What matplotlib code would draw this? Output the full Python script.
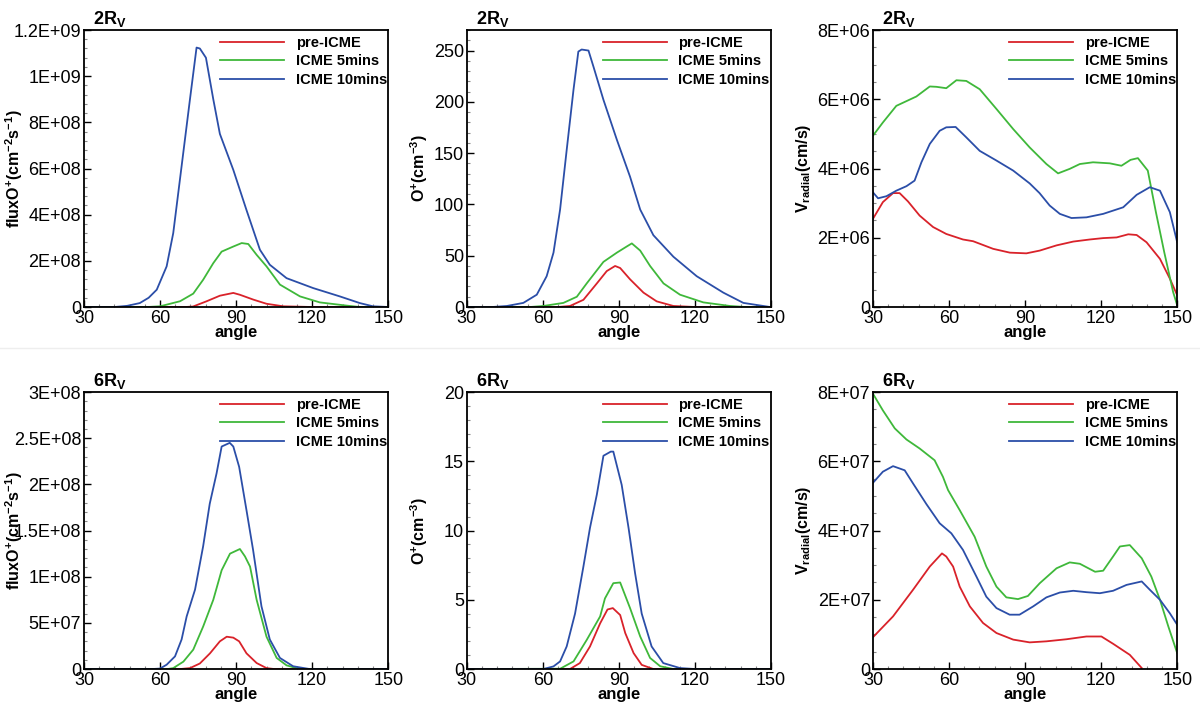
import matplotlib.pyplot as plt
from matplotlib.ticker import MultipleLocator, AutoMinorLocator, FuncFormatter
import numpy as np

plt.rcParams['font.family'] = ['Liberation Sans', 'DejaVu Sans']
plt.rcParams['mathtext.fontset'] = 'custom'
plt.rcParams['mathtext.rm'] = 'Liberation Sans:bold'
plt.rcParams['mathtext.it'] = 'Liberation Sans:bold'
plt.rcParams['mathtext.bf'] = 'Liberation Sans:bold'

labels = ['pre-ICME', 'ICME 5mins', 'ICME 10mins']
colors = ['#d9222a', '#3fb83a', '#2b4ea8']

# ---- 2Rv flux O+ ----
flux2_pre_x = [30, 70, 73, 78.4, 83.6, 88.9, 91.5, 96.8, 102, 108.6, 120, 150]
flux2_pre_y = [0, 0, 0.002e9, 0.025e9, 0.049e9, 0.061e9, 0.053e9, 0.032e9, 0.014e9, 0.003e9, 0, 0]
flux2_5_x = [30, 55, 60, 67.9, 73.1, 77, 81, 84.3, 88.9, 92.2, 94.8, 98.1, 102, 107.3, 115.2, 123, 133.6, 138.8, 150]
flux2_5_y = [0, 0, 0.003e9, 0.025e9, 0.058e9, 0.118e9, 0.19e9, 0.24e9, 0.262e9, 0.277e9, 0.273e9, 0.226e9,
             0.176e9, 0.097e9, 0.046e9, 0.02e9, 0.006e9, 0, 0]
flux2_10_x = [30, 42, 47, 52, 55.5, 58.7, 62.6, 65.2, 68.5, 71.8, 74.4, 75.7, 78.1, 81, 83.6, 88.9, 94.1, 99.4,
              103.3, 109.9, 120.4, 130.9, 138.8, 144, 150]
flux2_10_y = [0, 0, 0.005e9, 0.017e9, 0.04e9, 0.075e9, 0.176e9, 0.32e9, 0.61e9, 0.90e9, 1.124e9, 1.12e9, 1.08e9,
              0.90e9, 0.75e9, 0.594e9, 0.42e9, 0.248e9, 0.183e9, 0.125e9, 0.082e9, 0.046e9, 0.017e9, 0.003e9, 0]

# ---- 2Rv O+ density ----
dens2_pre_x = [30, 66, 70.7, 76, 81.3, 85.2, 88.5, 90.5, 94.4, 99.7, 104.9, 111.5, 120, 150]
dens2_pre_y = [0, 0, 1, 7, 23, 35, 40, 38, 27, 14, 5.5, 1, 0, 0]
dens2_5_x = [30, 55, 60.2, 68.1, 73.4, 77.3, 83.9, 89.2, 93.1, 95.1, 98.4, 102.3, 107.6, 114.1, 123.3, 133.8, 140, 150]
dens2_5_y = [0, 0, 1, 4, 10, 23, 44, 53, 59, 62, 55, 40, 23, 12, 4.5, 1, 0, 0]
dens2_10_x = [30, 40, 45.8, 52.3, 57.6, 61.5, 64.2, 66.8, 69.4, 72.1, 74, 75.3, 78, 80, 83.9, 89.2, 94.4, 98.4,
              103.6, 111.5, 120.7, 131.2, 139.1, 149.6, 150]
dens2_10_y = [0, 0, 1, 4, 12, 30, 53, 95, 153, 212, 249, 251, 250, 234, 202, 163, 127, 95, 70, 49, 30, 14, 4, 0, 0]

# ---- 2Rv V radial ----
vr2_pre_x = [30, 33.9, 37.9, 40.5, 43.8, 48.4, 53.7, 58.9, 65.5, 69.5, 77.4, 84, 90.5, 95.8, 102.4, 109, 115.5,
             120.8, 126.1, 130.7, 134, 137.9, 143.2, 147.1, 150]
vr2_pre_y = [2.55e6, 3.03e6, 3.29e6, 3.29e6, 3.05e6, 2.64e6, 2.31e6, 2.11e6, 1.95e6, 1.90e6, 1.68e6, 1.57e6,
             1.55e6, 1.63e6, 1.78e6, 1.89e6, 1.95e6, 1.99e6, 2.01e6, 2.10e6, 2.08e6, 1.87e6, 1.39e6, 0.82e6, 0.34e6]
vr2_5_x = [30, 33.9, 39.2, 47.1, 52.4, 55, 58.9, 62.9, 66.8, 72.1, 78.7, 85.3, 91.8, 98.4, 103, 107.6, 111.6,
           116.8, 123.4, 128, 131.6, 134.5, 138.4, 141.6, 144.9, 148.4, 150]
vr2_5_y = [4.95e6, 5.33e6, 5.81e6, 6.08e6, 6.37e6, 6.36e6, 6.32e6, 6.55e6, 6.53e6, 6.29e6, 5.72e6, 5.14e6,
           4.61e6, 4.13e6, 3.86e6, 3.99e6, 4.13e6, 4.18e6, 4.15e6, 4.08e6, 4.25e6, 4.30e6, 3.94e6, 2.74e6,
           1.58e6, 0.43e6, 0.05e6]
vr2_10_x = [30, 32, 35.3, 39.2, 43.2, 46.4, 49.1, 52.4, 56.3, 58.9, 62.6, 66.8, 72.1, 78.7, 85.3, 91.8, 95.7,
            99.7, 103.7, 108.3, 114.2, 120.8, 128.7, 134, 139.2, 143.2, 147.1, 150]
vr2_10_y = [3.31e6, 3.14e6, 3.20e6, 3.36e6, 3.49e6, 3.65e6, 4.18e6, 4.71e6, 5.09e6, 5.19e6, 5.20e6, 4.90e6,
            4.51e6, 4.23e6, 3.94e6, 3.57e6, 3.29e6, 2.93e6, 2.69e6, 2.57e6, 2.59e6, 2.69e6, 2.88e6, 3.24e6,
            3.46e6, 3.36e6, 2.74e6, 1.87e6]

# ---- 6Rv flux O+ ----
flux6_pre_x = [30, 68, 71.8, 75.7, 79.7, 83.6, 86.3, 88.9, 91.2, 94.1, 98.1, 102, 105, 150]
flux6_pre_y = [0, 0, 0.01e8, 0.06e8, 0.17e8, 0.30e8, 0.35e8, 0.34e8, 0.30e8, 0.17e8, 0.065e8, 0.01e8, 0, 0]
flux6_5_x = [30, 63, 65.2, 69.2, 73.1, 77, 81, 84.3, 87.6, 91.5, 93.5, 95.5, 98.1, 102, 106, 109.9, 115.1, 150]
flux6_5_y = [0, 0, 0.01e8, 0.08e8, 0.21e8, 0.46e8, 0.75e8, 1.07e8, 1.25e8, 1.30e8, 1.22e8, 1.11e8, 0.75e8,
             0.35e8, 0.12e8, 0.04e8, 0, 0]
flux6_10_x = [30, 57, 60, 62.6, 65.9, 68.5, 70.5, 73.8, 77, 79.6, 82.3, 84.3, 87.5, 88.9, 91.2, 94.1, 96.7, 100,
              103.3, 107.3, 112.5, 119, 150]
flux6_10_y = [0, 0, 0.005e8, 0.047e8, 0.137e8, 0.32e8, 0.57e8, 0.86e8, 1.33e8, 1.79e8, 2.12e8, 2.41e8, 2.45e8,
              2.41e8, 2.19e8, 1.72e8, 1.29e8, 0.68e8, 0.32e8, 0.12e8, 0.03e8, 0, 0]

# ---- 6Rv O+ density ----
dens6_pre_x = [30, 70.7, 74.6, 78.6, 82.6, 85.5, 87.6, 90.5, 92.5, 95.8, 99, 103.6, 150]
dens6_pre_y = [0, 0, 0.43, 1.63, 3.3, 4.3, 4.4, 3.9, 2.6, 1.15, 0.3, 0, 0]
dens6_5_x = [30, 66.8, 72.1, 77.3, 82.6, 84.5, 87.8, 90.5, 94.4, 98.4, 102.3, 106.3, 111.5, 150]
dens6_5_y = [0, 0.02, 0.55, 2.1, 3.8, 5.1, 6.2, 6.25, 4.4, 2.35, 0.8, 0.2, 0, 0]
dens6_10_x = [30, 60.2, 64.2, 66.8, 69.4, 72.7, 76, 78.6, 81.3, 83.9, 86.8, 87.8, 91.1, 93.8, 96.4, 99, 102.9,
              107.5, 114.1, 120, 150]
dens6_10_y = [0, 0, 0.19, 0.55, 1.63, 4.0, 7.4, 10.2, 12.6, 15.4, 15.7, 15.7, 13.3, 10.2, 6.9, 4.0, 1.63,
              0.43, 0.07, 0, 0]

# ---- 6Rv V radial ----
vr6_pre_x = [30, 37.9, 45.8, 52.4, 57.2, 58.9, 61.6, 64.2, 68.2, 73.4, 78.7, 85.3, 91.8, 98.4, 106.3, 114.2,
             120.1, 124.7, 131.3, 136]
vr6_pre_y = [0.92e7, 1.52e7, 2.29e7, 2.96e7, 3.34e7, 3.25e7, 2.96e7, 2.38e7, 1.81e7, 1.33e7, 1.04e7, 0.85e7,
             0.77e7, 0.80e7, 0.86e7, 0.94e7, 0.94e7, 0.73e7, 0.41e7, 0.03e7]
vr6_5_x = [30, 33.9, 38.6, 43.2, 48.4, 54.3, 57.6, 59.6, 64.2, 70.1, 74.7, 78.7, 82.6, 87.2, 91.1, 95.8, 102.4,
           107.6, 111.6, 117.6, 120.8, 124.7, 127.4, 131.3, 136, 139.8, 143.2, 146.5, 150]
vr6_5_y = [7.95e7, 7.47e7, 6.95e7, 6.63e7, 6.37e7, 6.03e7, 5.55e7, 5.17e7, 4.59e7, 3.82e7, 2.96e7, 2.38e7,
           2.07e7, 2.02e7, 2.11e7, 2.48e7, 2.91e7, 3.08e7, 3.04e7, 2.81e7, 2.84e7, 3.25e7, 3.54e7, 3.58e7,
           3.20e7, 2.67e7, 2.0e7, 1.23e7, 0.46e7]
vr6_10_x = [30, 33.9, 37.9, 42.5, 45.8, 51.1, 56.3, 60.9, 65.5, 70.8, 74.7, 78.7, 83.9, 87.8, 93.2, 98.4, 103.7,
            109, 114.2, 119.5, 124.7, 130, 136, 139.2, 143.2, 147.1, 150]
vr6_10_y = [5.38e7, 5.70e7, 5.86e7, 5.74e7, 5.36e7, 4.76e7, 4.21e7, 3.92e7, 3.44e7, 2.67e7, 2.09e7, 1.76e7,
            1.57e7, 1.57e7, 1.81e7, 2.07e7, 2.21e7, 2.26e7, 2.22e7, 2.19e7, 2.26e7, 2.43e7, 2.53e7, 2.29e7,
            2.0e7, 1.61e7, 1.28e7]


def sci_fmt(v, pos):
    if v == 0:
        return '0'
    e = int(np.floor(np.log10(abs(v)) + 1e-9))
    m = v / 10 ** e
    return '{:g}E+{:02d}'.format(round(m, 3), e)


flux_label = r'fluxO$^{+}$(cm$^{-2}$s$^{-1}$)'
dens_label = r'O$^{+}$(cm$^{-3}$)'
vr_label = r'V$_{\mathregular{radial}}$(cm/s)'

panels = [
    # (rv, series, ylabel, ylabel x, ymax, major, minor_n, sci)
    ('2', [(flux2_pre_x, flux2_pre_y), (flux2_5_x, flux2_5_y), (flux2_10_x, flux2_10_y)], flux_label, -0.195, 1.2e9, 2e8, 5, True),
    ('2', [(dens2_pre_x, dens2_pre_y), (dens2_5_x, dens2_5_y), (dens2_10_x, dens2_10_y)], dens_label, -0.12, 270, 50, 5, False),
    ('2', [(vr2_pre_x, vr2_pre_y), (vr2_5_x, vr2_5_y), (vr2_10_x, vr2_10_y)], vr_label, -0.198, 8e6, 2e6, 4, True),
    ('6', [(flux6_pre_x, flux6_pre_y), (flux6_5_x, flux6_5_y), (flux6_10_x, flux6_10_y)], flux_label, -0.195, 3e8, 5e7, 5, True),
    ('6', [(dens6_pre_x, dens6_pre_y), (dens6_5_x, dens6_5_y), (dens6_10_x, dens6_10_y)], dens_label, -0.12, 20, 5, 5, False),
    ('6', [(vr6_pre_x, vr6_pre_y), (vr6_5_x, vr6_5_y), (vr6_10_x, vr6_10_y)], vr_label, -0.198, 8e7, 2e7, 4, True),
]

lefts = [0.070, 0.389, 0.7275]
bottoms = [0.5676, 0.0577]
w, h = 0.2535, 0.3901

fig = plt.figure(figsize=(12, 7.1), dpi=100)
fig.add_artist(plt.Line2D([0, 1], [0.51, 0.51], color='#eeeeee', lw=1))

for i, (rv, series, ylab, ylx, ymax, major, nminor, sci) in enumerate(panels):
    ax = fig.add_axes([lefts[i % 3], bottoms[i // 3], w, h])
    for (xs, ys), c, lab in zip(series, colors, labels):
        ax.plot(xs, ys, color=c, lw=1.3, label=lab)
    ax.set_xlim(30, 150)
    ax.set_ylim(0, ymax)
    ax.xaxis.set_major_locator(MultipleLocator(30))
    ax.xaxis.set_minor_locator(MultipleLocator(6))
    ax.yaxis.set_major_locator(MultipleLocator(major))
    ax.yaxis.set_minor_locator(AutoMinorLocator(nminor))
    if sci:
        ax.yaxis.set_major_formatter(FuncFormatter(sci_fmt))
    ax.tick_params(which='both', direction='in', top=False, right=False, labelsize=13, pad=2)
    ax.tick_params(which='major', length=5, width=1)
    ax.tick_params(which='minor', length=2.5, width=0.8, color='#888888')
    for s in ax.spines.values():
        s.set_linewidth(1.3)
    ax.set_xlabel('angle', fontsize=12, fontweight='bold', labelpad=-1)
    ax.set_ylabel(ylab, fontsize=11.5, fontweight='bold')
    ax.yaxis.set_label_coords(ylx, 0.5)
    ax.text(0.03, 1.005, rv + r'R$_{\mathregular{V}}$', transform=ax.transAxes, fontsize=13,
            fontweight='bold', ha='left', va='bottom')
    ax.legend(loc='upper right', bbox_to_anchor=(1.015, 1.0), frameon=False,
              prop={'weight': 'bold', 'size': 10.5},
              handlelength=4.4, handletextpad=0.8, labelspacing=0.3, borderaxespad=0,
              borderpad=0.4)

fig.savefig('out.png', dpi=100)
